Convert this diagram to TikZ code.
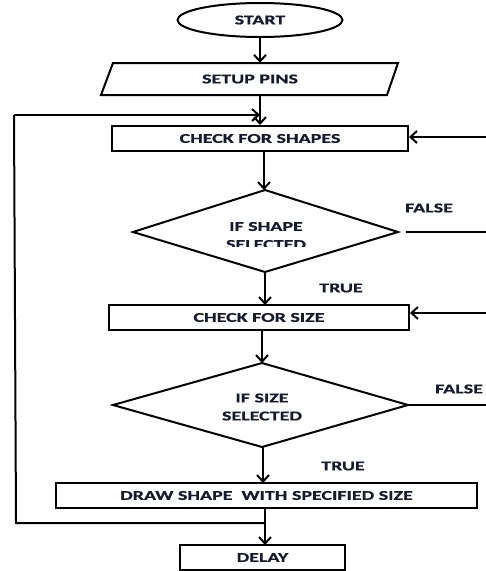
\documentclass[tikz,border=0pt]{standalone}
\usepackage{fontspec}
\newfontfamily\lbl{Carlito Bold}[FakeStretch=1.48,FakeBold=0.8]
\usetikzlibrary{arrows.meta,shapes.geometric}
\definecolor{txt}{HTML}{161B30}
\tikzset{
  ln/.style={line width=2pt, draw=black},
  arr/.style={ln, -{Straight Barb[length=6.5pt,width=12pt,line width=2pt]}},
  lab/.style={font=\lbl\fontsize{13.5}{15}\selectfont, text=txt, inner sep=0pt, align=center},
  boxnode/.style={ln, rectangle, inner sep=0pt, font=\lbl\fontsize{13.5}{15}\selectfont, text=txt},
}
\begin{document}
\begin{tikzpicture}[x=1pt,y=-1pt]
\useasboundingbox (0,0) rectangle (486,571);
% start
\node[ln, ellipse, minimum width=165pt, minimum height=34pt, inner sep=0pt, font=\lbl\fontsize{13.5}{15}\selectfont, text=txt] (start) at (260,20) {START};
% setup pins parallelogram
\draw[ln, line join=miter] (113,63) -- (398,63) -- (387,95) -- (101,95) -- cycle;
\node[lab, minimum width=274pt, minimum height=32pt] (setup) at (250,79) {SETUP PINS};
\draw[arr] (start.south) -- (start.south |- setup.north);
% check shapes
\node[boxnode, minimum width=296pt, minimum height=25pt] (chk1) at (260,138.5) {CHECK FOR SHAPES};
\draw[arr] (260,95) -- (chk1.north);
% right feedback 1
\coordinate (r1) at (486,137);
\draw[arr] (r1) -- (r1 -| chk1.east);
% diamond 1
\draw[ln] (265,190) -- (398,232) -- (265,272) -- (133,232) -- cycle;
\begin{scope}
\clip (0,0) rectangle (486,246.8);
\node[lab] (d1t) at (266,235.5) {IF SHAPE\\[3pt]SELECTED};
\end{scope}
\draw[arr] (264,151) -- (264,190);
\node[lab] (f1) at (429,208) {FALSE};
\coordinate (f1s) at (406,232);
\coordinate (f1e) at (486,232);
\draw[ln] (f1s) -- (f1e);
\node[lab] (t1) at (341,288) {TRUE};
% check size
\node[boxnode, minimum width=300pt, minimum height=25pt] (chk2) at (259,317.5) {CHECK FOR SIZE};
\draw[arr] (265,272) -- (265,305);
\coordinate (r2) at (486,313);
\draw[arr] (r2) -- (r2 -| chk2.east);
% diamond 2
\draw[ln] (262,363) -- (408,405) -- (262,447) -- (113,405) -- cycle;
\node[lab] (d2t) at (262,407) {IF SIZE\\[3pt]SELECTED};
\draw[arr] (262,330) -- (262,363);
\node[lab] (f2) at (459,389) {FALSE};
\coordinate (f2e) at (486,405);
\draw[ln] (408,405) -- (f2e);
\node[lab] (t2) at (343,466) {TRUE};
% draw shape
\node[boxnode, minimum width=421pt, minimum height=25pt] (draw) at (266.5,495.5) {DRAW SHAPE\ \ WITH SPECIFIED SIZE};
\draw[arr] (263,447) -- (263,483);
% delay
\node[boxnode, minimum width=165pt, minimum height=25pt] (delay) at (262.5,557.5) {DELAY};
\draw[arr] (265,508) -- (265,545);
% left loop
\coordinate (lb) at (16,523);
\coordinate (lt) at (14,115);
\draw[ln] (265,523) -- (lb) -- (lt);
\draw[arr] (lt) -- (260,115);
\end{tikzpicture}
\end{document}
